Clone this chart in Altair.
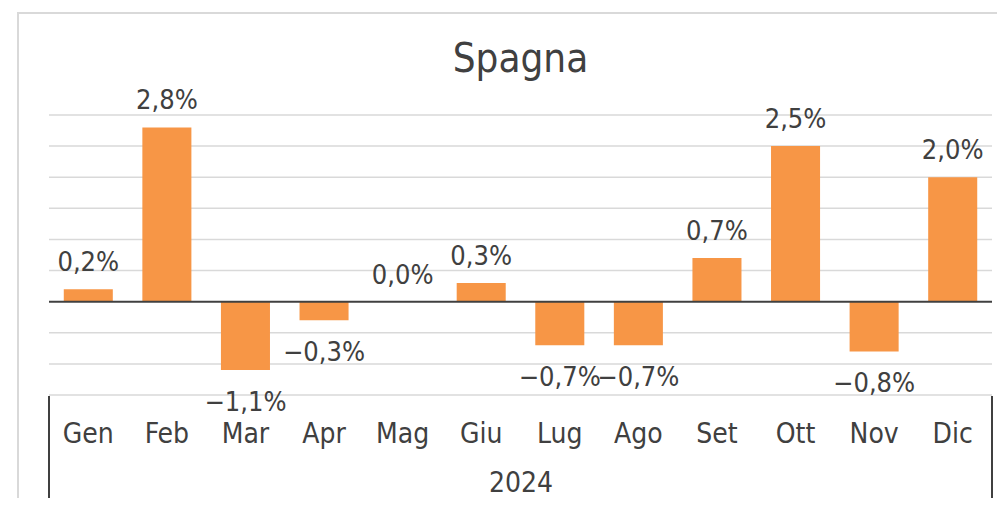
import altair as alt
import pandas as pd

months = ["Gen", "Feb", "Mar", "Apr", "Mag", "Giu", "Lug", "Ago", "Set", "Ott", "Nov", "Dic"]
values = [0.2, 2.8, -1.1, -0.3, 0.0, 0.3, -0.7, -0.7, 0.7, 2.5, -0.8, 2.0]
grid_values = [-1.5, -1.0, -0.5, 0.5, 1.0, 1.5, 2.0, 2.5, 3.0]
zero_values = [0.0]
year_label = "2024"
title_text = "Spagna"


def fmt(v):
    s = f"{abs(v):.1f}".replace(".", ",") + "%"
    return ("\u2212" + s) if v < 0 else s


df = pd.DataFrame({
    "mese": months,
    "valore": values,
    "base0": [0.0] * len(values),
    "etichetta": [fmt(v) for v in values],
})
grid_df = pd.DataFrame({"g": grid_values})
zero_df = pd.DataFrame({"z": zero_values})
title_df = pd.DataFrame({"t": [title_text]})

FONT = "DejaVu Sans Condensed, DejaVu Sans"
TXT = "#404040"
BAR = "#F79646"

W, H = 943, 280

xscale = alt.Scale(domain=months, paddingInner=0.376, paddingOuter=0.188)
yscale = alt.Scale(domain=[-1.5, 3.0], nice=False, zero=False)

x_enc = alt.X(
    "mese:N", scale=xscale, sort=months,
    axis=alt.Axis(
        title=year_label, titleFont=FONT, titleFontSize=28, titleFontWeight="normal",
        titleColor=TXT, titleBaseline="middle", titleY=88, titleX=W / 2,
        labelFont=FONT, labelFontSize=28, labelColor=TXT, labelAngle=0,
        labelBaseline="middle", labelPadding=39, ticks=False, tickSize=0,
        domain=False, grid=False,
    ),
)
y_plain = alt.Y("valore:Q", scale=yscale, axis=None)
x_plain = alt.X("mese:N", scale=xscale, sort=months)

base = alt.Chart(df)

border = base.mark_rect(fill="transparent", stroke="#d9d9d9", strokeWidth=1.5).encode(
    x=alt.value(-31), x2=alt.value(1100), y=alt.value(-102), y2=alt.value(600)
)

grid = alt.Chart(grid_df).mark_rule(color="#d9d9d9", strokeWidth=1.5).encode(
    y=alt.Y("g:Q", scale=yscale, axis=None), x=alt.value(0), x2=alt.value(W)
)

bars = base.mark_bar(color=BAR).encode(x=x_enc, y=y_plain, y2="base0:Q")

zero = alt.Chart(zero_df).mark_rule(color=TXT, strokeWidth=2).encode(
    y=alt.Y("z:Q", scale=yscale, axis=None), x=alt.value(0), x2=alt.value(W)
)

lab_pos = base.transform_filter("datum.valore >= 0").mark_text(
    font=FONT, fontSize=27, color=TXT, baseline="middle", dy=-26
).encode(x=x_plain, y=y_plain, text="etichetta:N")

lab_neg = base.transform_filter("datum.valore < 0").mark_text(
    font=FONT, fontSize=27, color=TXT, baseline="middle", dy=33
).encode(x=x_plain, y=y_plain, text="etichetta:N")

left_sep = base.mark_rule(color=TXT, strokeWidth=2).encode(
    x=alt.value(0), y=alt.value(281), y2=alt.value(386)
)
right_sep = base.mark_rule(color=TXT, strokeWidth=2).encode(
    x=alt.value(W), y=alt.value(281), y2=alt.value(386)
)

title = alt.Chart(title_df).mark_text(
    font=FONT, fontSize=40, color=TXT, baseline="middle", align="center"
).encode(x=alt.value(W / 2), y=alt.value(-55), text="t:N")

chart = alt.layer(border, grid, bars, zero, lab_pos, lab_neg, left_sep, right_sep, title).properties(
    width=W, height=H,
    autosize=alt.AutoSizeParams(type="none"),
    padding={"left": 41, "top": 107, "right": 5, "bottom": 103},
).configure_view(strokeWidth=0)

chart.save("out.html", embed_options={"renderer": "svg", "actions": False})
